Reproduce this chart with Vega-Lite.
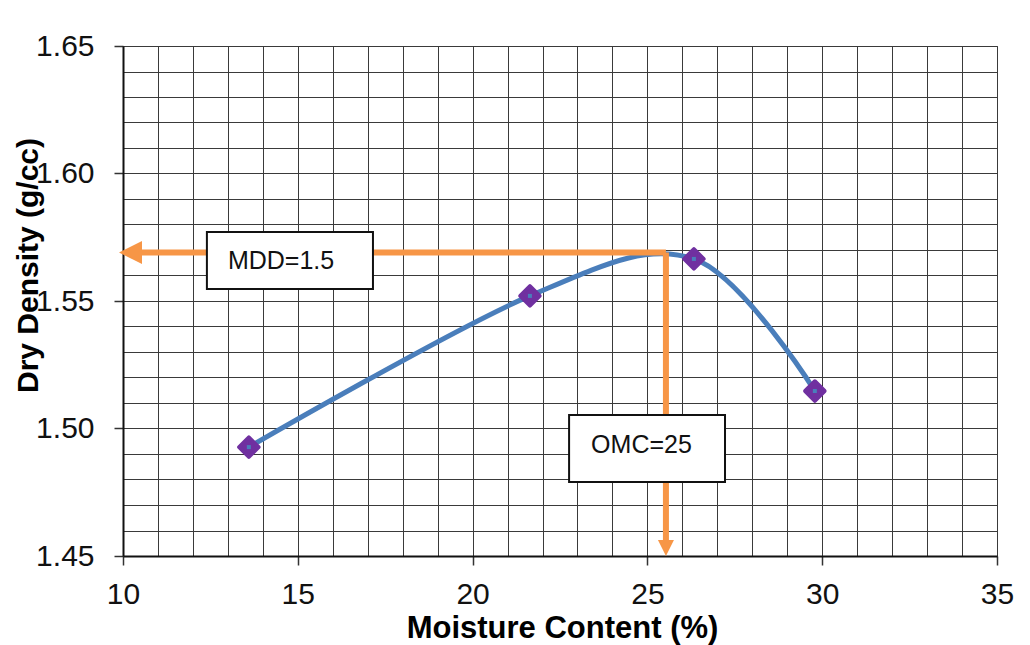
{
  "$schema": "https://vega.github.io/schema/vega-lite/v6.json",
  "width": 874,
  "height": 510,
  "autosize": {"type": "none"},
  "padding": {"left": 123, "top": 46, "right": 33, "bottom": 89},
  "background": "white",
  "config": {
    "font": "Liberation Sans",
    "view": {"stroke": "#404040", "strokeWidth": 1}
  },
  "encoding": {
    "x": {
      "field": "x", "type": "quantitative",
      "scale": {"domain": [10, 35], "nice": false, "zero": false},
      "axis": {
        "values": [10,11,12,13,14,15,16,17,18,19,20,21,22,23,24,25,26,27,28,29,30,31,32,33,34,35],
        "grid": true, "gridColor": "#3a3a3a", "gridWidth": 1,
        "domainColor": "#111", "domainWidth": 2,
        "tickColor": "#333", "tickSize": 9, "tickWidth": 1.5,
        "tickOpacity": {"condition": {"test": "datum.value % 5 === 0", "value": 1}, "value": 0},
        "labelExpr": "datum.value % 5 === 0 ? datum.label : ''",
        "labelFontSize": 30, "labelColor": "#111", "labelPadding": 14,
        "labelFlush": false, "labelOverlap": false,
        "title": "Moisture Content (%)", "titleFontSize": 31, "titleFontWeight": "bold",
        "titleColor": "#000", "titleX": 439, "titleY": 81, "titleBaseline": "alphabetic", "titleAlign": "center"
      }
    },
    "y": {
      "field": "y", "type": "quantitative",
      "scale": {"domain": [1.45, 1.65], "nice": false, "zero": false},
      "axis": {
        "values": [1.45,1.46,1.47,1.48,1.49,1.50,1.51,1.52,1.53,1.54,1.55,1.56,1.57,1.58,1.59,1.60,1.61,1.62,1.63,1.64,1.65],
        "grid": true, "gridColor": "#3a3a3a", "gridWidth": 1,
        "domainColor": "#111", "domainWidth": 2,
        "tickColor": "#333", "tickSize": 9, "tickWidth": 1.5,
        "tickOpacity": {"condition": {"test": "round(datum.value*100) % 5 === 0", "value": 1}, "value": 0},
        "labelExpr": "round(datum.value*100) % 5 === 0 ? format(datum.value, '.2f') : ''",
        "labelFontSize": 30, "labelColor": "#111", "labelPadding": 20, "labelOverlap": false,
        "title": "Dry Density (g/cc)", "titleFontSize": 30, "titleFontWeight": "bold",
        "titleColor": "#000", "titleX": -86, "titleY": 219, "titleAngle": 270,
        "titleBaseline": "alphabetic", "titleAlign": "center"
      }
    }
  },
  "layer": [
    {
      "data": {"name": "series", "values": [
        {"x": 13.6, "y": 1.4927},
        {"x": 21.64, "y": 1.552},
        {"x": 26.33, "y": 1.5665},
        {"x": 29.79, "y": 1.5147}
      ]},
      "mark": {"type": "line", "interpolate": "cardinal", "color": "#4A7EBB", "strokeWidth": 5}
    },
    {
      "data": {"name": "series"},
      "mark": {"type": "point", "shape": "diamond", "filled": true, "size": 380, "color": "#7030A0", "stroke": "#7030A0", "strokeWidth": 4, "strokeJoin": "round", "opacity": 1}
    },
    {
      "data": {"name": "series"},
      "mark": {"type": "point", "shape": "square", "filled": true, "size": 16, "color": "#4A7EBB", "opacity": 1}
    },
    {
      "data": {"values": [{"x": 10.3, "x2": 25.53, "y": 1.569}]},
      "mark": {"type": "rule", "color": "#F79646", "strokeWidth": 6},
      "encoding": {"x2": {"field": "x2"}}
    },
    {
      "data": {"values": [{"x": 25.53, "y": 1.569, "y2": 1.456}]},
      "mark": {"type": "rule", "color": "#F79646", "strokeWidth": 6},
      "encoding": {"y2": {"field": "y2"}}
    },
    {
      "data": {"values": [{"x": 10.215, "y": 1.569}]},
      "mark": {"type": "point", "shape": "M -1 0 L 1 -1 L 1 1 Z", "filled": true, "size": 529, "color": "#F79646", "opacity": 1}
    },
    {
      "data": {"values": [{"x": 25.53, "y": 1.4531}]},
      "mark": {"type": "point", "shape": "M 0 1 L -1 -1 L 1 -1 Z", "filled": true, "size": 256, "color": "#F79646", "opacity": 1}
    },
    {
      "data": {"values": [
        {"x": 12.4, "x2": 17.15, "y": 1.5771, "y2": 1.5547},
        {"x": 22.76, "x2": 27.22, "y": 1.5053, "y2": 1.479}
      ]},
      "mark": {"type": "rect", "fill": "white", "stroke": "#111", "strokeWidth": 2},
      "encoding": {"x2": {"field": "x2"}, "y2": {"field": "y2"}}
    },
    {
      "data": {"values": [
        {"x": 13.0, "y": 1.5657, "label": "MDD=1.5"},
        {"x": 23.39, "y": 1.4935, "label": "OMC=25"}
      ]},
      "mark": {"type": "text", "align": "left", "baseline": "middle", "fontSize": 25, "font": "Liberation Sans", "color": "#111"},
      "encoding": {"text": {"field": "label"}}
    }
  ]
}
